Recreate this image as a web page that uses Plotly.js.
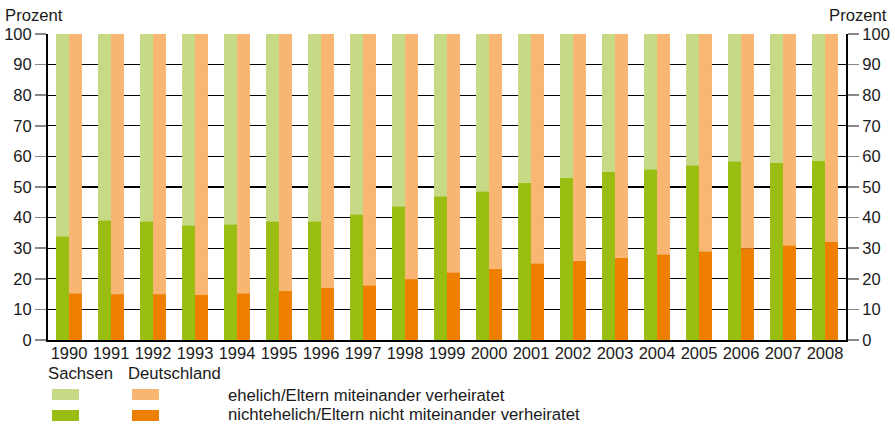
<!DOCTYPE html>
<html>
<head>
<meta charset="utf-8">
<script src="https://cdn.plot.ly/plotly-3.0.1.min.js"></script>
<style>
html,body{margin:0;padding:0;background:#fff;}
#chart{width:895px;height:424px;}
</style>
</head>
<body>
<div id="chart"></div>
<script>
// Data
const years = ["1990","1991","1992","1993","1994","1995","1996","1997","1998","1999","2000","2001","2002","2003","2004","2005","2006","2007","2008"];
// Share of births: nichtehelich / Eltern nicht miteinander verheiratet (percent)
const sachsenNichtehelich = [33.9,39.1,38.8,37.5,37.8,38.8,38.8,41.1,43.7,47.0,48.6,51.5,53.1,55.1,55.8,57.1,58.4,58.0,58.7];
const deutschlandNichtehelich = [15.3,15.0,15.0,14.7,15.3,16.0,17.0,17.9,19.9,22.1,23.4,25.1,26.0,27.0,28.0,29.0,30.0,31.0,32.0];
// ehelich share = remainder to 100 %
const sachsenEhelich = sachsenNichtehelich.map(v => 100 - v);
const deutschlandEhelich = deutschlandNichtehelich.map(v => 100 - v);

const regionLabels = ["Sachsen", "Deutschland"];
const categoryLabels = ["ehelich/Eltern miteinander verheiratet", "nichtehelich/Eltern nicht miteinander verheiratet"];
const yTicks = [0,10,20,30,40,50,60,70,80,90,100];
const unitLabel = "Prozent";

const C = {
  sLight: "#c6da86", sDark: "#99bd10",
  dLight: "#f8b672", dDark: "#ef7f00"
};

const FONT = "'Liberation Sans', Arial, sans-serif";

const traces = [
  {type:"bar", x: years, y: sachsenNichtehelich, offsetgroup:"S", marker:{color:C.sDark, line:{width:0}}, name: regionLabels[0]},
  {type:"bar", x: years, y: sachsenEhelich, base: sachsenNichtehelich, offsetgroup:"S", marker:{color:C.sLight, line:{width:0}}, name: regionLabels[0]},
  {type:"bar", x: years, y: deutschlandNichtehelich, offsetgroup:"D", marker:{color:C.dDark, line:{width:0}}, name: regionLabels[1]},
  {type:"bar", x: years, y: deutschlandEhelich, base: deutschlandNichtehelich, offsetgroup:"D", marker:{color:C.dLight, line:{width:0}}, name: regionLabels[1]},
  // invisible trace to carry the right axis
  {type:"scatter", x: [years[0]], y: [0], yaxis:"y2", mode:"markers", marker:{opacity:0, size:1}, hoverinfo:"skip", showlegend:false}
];

// pixel -> paper helpers (plot area 48..846 x, 34..340 y)
const L = 48, R = 846, T = 34, B = 340;
const px = v => (v - L) / (R - L);
const py = v => (B - v) / (B - T);

const shapes = [];
const annotations = [];

function swatch(x0, x1, y0, y1, color){
  shapes.push({type:"rect", xref:"paper", yref:"paper", x0:px(x0), x1:px(x1), y0:py(y1), y1:py(y0), fillcolor:color, line:{width:0}, layer:"above"});
}
function text(t, x, y, anchor){
  annotations.push({text:t, xref:"paper", yref:"paper", x:px(x), y:py(y), xanchor:anchor||"left", yanchor:"middle", showarrow:false, font:{family:FONT, size:16.7, color:"#1a1a1a"}});
}

text(unitLabel, 3, 15, "left");
text(unitLabel, 889, 15, "right");
text(regionLabels[0], 46, 373);
text(regionLabels[1], 126, 373);
swatch(52, 79, 389, 400, C.sLight);
swatch(132, 159, 389, 400, C.dLight);
swatch(52, 79, 410, 421, C.sDark);
swatch(132, 159, 410, 421, C.dDark);
text(categoryLabels[0], 226, 395);
text(categoryLabels[1], 226, 414);

const yAxisCommon = {
  range:[0,100], autorange:false, tickvals: yTicks, ticktext: yTicks.map(String),
  ticks:"outside", ticklen:11, tickwidth:1.5, tickcolor:"#888",
  showline:true, linecolor:"#000", linewidth:2,
  zeroline:false, fixedrange:true,
  tickfont:{family:FONT, size:16.5, color:"#1a1a1a"}
};

const layout = {
  width:895, height:424,
  margin:{l:L, r:895-R, t:T, b:424-B, pad:0},
  paper_bgcolor:"#fff", plot_bgcolor:"#fff",
  barmode:"group", bargap:0.383, bargroupgap:0,
  showlegend:false,
  xaxis:{
    type:"category", tickvals: years, ticktext: years,
    range:[-0.5, years.length - 0.5], autorange:false,
    showline:true, linecolor:"#000", linewidth:2,
    ticks:"", showgrid:false, zeroline:false, fixedrange:true,
    ticklabelstandoff:-3,
    tickfont:{family:FONT, size:16.5, color:"#1a1a1a"}
  },
  yaxis: Object.assign({}, yAxisCommon, {showgrid:true, gridcolor:"#000", gridwidth:1.2, side:"left"}),
  yaxis2: Object.assign({}, yAxisCommon, {showgrid:false, overlaying:"y", side:"right"}),
  shapes: shapes,
  annotations: annotations,
  hovermode:false
};

Plotly.newPlot("chart", traces, layout, {displayModeBar:false, staticPlot:true});
</script>
</body>
</html>
